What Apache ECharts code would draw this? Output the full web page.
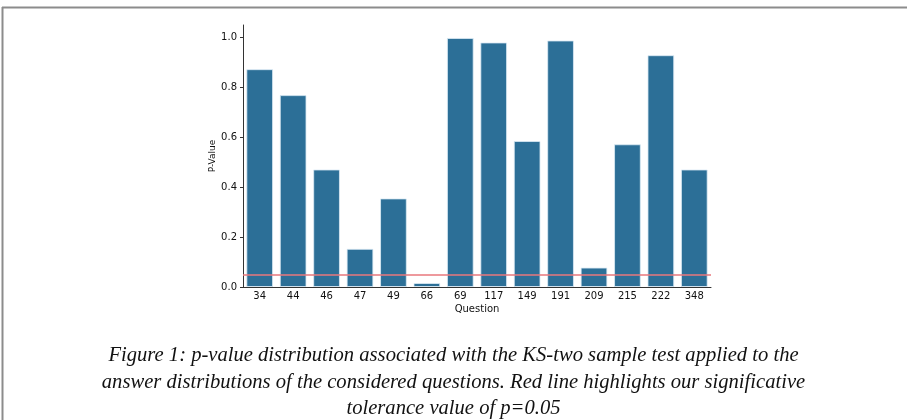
<!DOCTYPE html>
<html>
<head>
<meta charset="utf-8">
<script src="https://cdn.jsdelivr.net/npm/echarts@6/dist/echarts.min.js"></script>
<style>
html,body{margin:0;padding:0;background:#fff;}
#chart{width:907px;height:420px;}
</style>
</head>
<body>
<div id="chart"></div>
<script>
const categories = ['34','44','46','47','49','66','69','117','149','191','209','215','222','348'];
const pValues = [0.873, 0.769, 0.471, 0.153, 0.355, 0.016, 0.998, 0.980, 0.585, 0.988, 0.078, 0.572, 0.929, 0.471];
const yTicks = [0, 0.2, 0.4, 0.6, 0.8, 1.0];
const threshold = 0.05;
const captionLines = [
  'Figure 1: p-value distribution associated with the KS-two sample test applied to the',
  'answer distributions of the considered questions. Red line highlights our significative',
  'tolerance value of p=0.05'
];

const captionFont = 'italic 20.6px "Liberation Serif"';
const graphics = [
  {type: 'line', shape: {x1: 2, y1: 7.5, x2: 907, y2: 7.5}, style: {stroke: '#8c8c8c', lineWidth: 2}},
  {type: 'line', shape: {x1: 2.5, y1: 7, x2: 2.5, y2: 420}, style: {stroke: '#8c8c8c', lineWidth: 2}}
];
captionLines.forEach((t, i) => {
  graphics.push({
    type: 'text',
    x: 453.5,
    y: 356 + i * 26.5,
    style: {text: t, font: captionFont, fill: '#111', align: 'center', verticalAlign: 'middle'}
  });
});

const chart = echarts.init(document.getElementById('chart'), null, {renderer: 'canvas'});
chart.setOption({
  animation: false,
  backgroundColor: '#fff',
  graphic: graphics,
  grid: {left: 243, right: 196, top: 25, bottom: 133, containLabel: false},
  xAxis: {
    type: 'category',
    data: categories,
    name: 'Question',
    nameLocation: 'middle',
    nameGap: 17,
    nameMoveOverlap: false,
    nameTextStyle: {fontFamily: 'DejaVu Sans', fontSize: 10, color: '#111'},
    axisLine: {lineStyle: {color: '#333', width: 1}},
    axisTick: {alignWithLabel: true, length: 3, lineStyle: {color: '#333'}},
    axisLabel: {fontFamily: 'DejaVu Sans', fontSize: 10, color: '#111', margin: 4, interval: 0}
  },
  yAxis: {
    type: 'value',
    min: 0,
    max: 1.05,
    name: 'P-Value',
    nameLocation: 'middle',
    nameRotate: 90,
    nameGap: 26,
    nameMoveOverlap: false,
    nameTextStyle: {fontFamily: 'DejaVu Sans', fontSize: 9, color: '#111'},
    splitLine: {show: false},
    axisLine: {show: true, lineStyle: {color: '#333', width: 1}},
    axisTick: {show: true, length: 3, customValues: yTicks, lineStyle: {color: '#333'}},
    axisLabel: {fontFamily: 'DejaVu Sans', fontSize: 10, color: '#111', margin: 6, customValues: yTicks,
      formatter: v => v.toFixed(1)}
  },
  series: [{
    type: 'bar',
    data: pValues,
    barCategoryGap: '20%',
    itemStyle: {color: '#2c6f97', borderColor: 'rgba(220,235,245,0.8)', borderWidth: 1},
    markLine: {
      silent: true,
      symbol: 'none',
      label: {show: false},
      lineStyle: {color: '#e8777c', width: 1.5, type: 'solid'},
      data: [{yAxis: threshold}]
    }
  }]
});
</script>
</body>
</html>
